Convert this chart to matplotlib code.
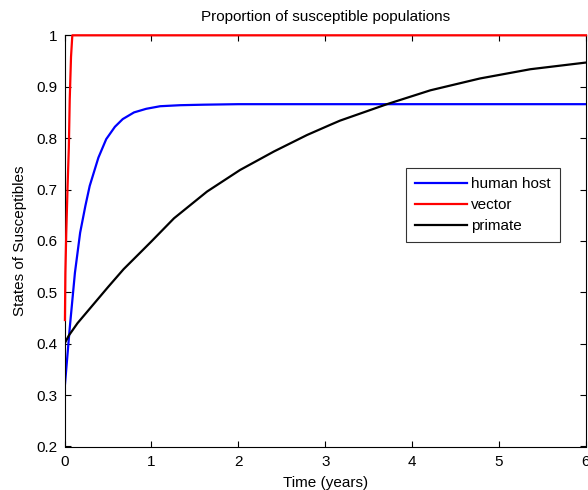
import matplotlib
matplotlib.use("Agg")
import matplotlib.pyplot as plt

plt.rcParams['font.family'] = ['Liberation Sans', 'DejaVu Sans']

title = "Proportion of susceptible populations"
xlabel = "Time (years)"
ylabel = "States of Susceptibles"
labels = ["human host", "vector", "primate"]

t_human = [0.0, 0.03, 0.06, 0.12, 0.18, 0.24, 0.29, 0.39, 0.48, 0.58, 0.67, 0.8, 0.94, 1.1, 1.33, 1.6, 2.0, 3.0, 4.0, 5.0, 6.0]
s_human = [0.31, 0.37, 0.43, 0.538, 0.616, 0.668, 0.707, 0.762, 0.798, 0.822, 0.837, 0.85, 0.857, 0.862, 0.864, 0.865, 0.866, 0.866, 0.866, 0.866, 0.866]

t_vector = [0.005, 0.01, 0.02, 0.035, 0.05, 0.06, 0.075, 0.09, 1.0, 2.0, 3.0, 4.0, 5.0, 6.0]
s_vector = [0.446, 0.537, 0.614, 0.704, 0.782, 0.874, 0.958, 1.0, 1.0, 1.0, 1.0, 1.0, 1.0, 1.0]

t_primate = [0.0, 0.05, 0.15, 0.3, 0.5, 0.68, 0.87, 1.0, 1.26, 1.64, 2.02, 2.41, 2.79, 3.06, 3.17, 3.71, 4.21, 4.78, 5.36, 6.0]
s_primate = [0.40, 0.416, 0.44, 0.47, 0.51, 0.545, 0.577, 0.599, 0.644, 0.696, 0.738, 0.774, 0.806, 0.826, 0.834, 0.866, 0.893, 0.916, 0.934, 0.947]

xticks = [0, 1, 2, 3, 4, 5, 6]
yticks = [0.2, 0.3, 0.4, 0.5, 0.6, 0.7, 0.8, 0.9, 1.0]
yticklabels = ["0.2", "0.3", "0.4", "0.5", "0.6", "0.7", "0.8", "0.9", "1"]

fig = plt.figure(figsize=(5.88, 4.90), dpi=100)
ax = fig.add_axes([64.5/588, 1-446.5/490, (586-64.5)/588, (446.5-35.3)/490])

ax.plot(t_human, s_human, color='#0000ff', lw=1.6, label=labels[0])
ax.plot(t_vector, s_vector, color='#ff0000', lw=1.6, label=labels[1], clip_on=False, zorder=5)
ax.plot(t_primate, s_primate, color='#000000', lw=1.6, label=labels[2])

ax.set_xlim(0, 6)
ax.set_ylim(0.2, 1.0)
ax.set_xticks(xticks)
ax.set_xticklabels([str(v) for v in xticks])
ax.set_yticks(yticks)
ax.set_yticklabels(yticklabels)
ax.tick_params(direction='in', top=True, right=True, length=4, width=0.8, labelsize=11)
ax.tick_params(axis='x', pad=6)
ax.tick_params(axis='y', pad=5)
for sp in ax.spines.values():
    sp.set_linewidth(0.8)

ax.set_title(title, fontsize=11, pad=10)
ax.set_xlabel(xlabel, fontsize=11, labelpad=5)
ax.set_ylabel(ylabel, fontsize=11, labelpad=7)

leg = ax.legend(loc='upper left', bbox_to_anchor=((406-64.5)/521.5, 1-(168-35.3)/411.2),
                fontsize=11, frameon=True, fancybox=False, edgecolor='black',
                handlelength=3.4, handletextpad=0.25, borderpad=0.6, labelspacing=0.45,
                borderaxespad=0)
leg.get_frame().set_linewidth(0.8)

fig.savefig("out.png", dpi=100)
